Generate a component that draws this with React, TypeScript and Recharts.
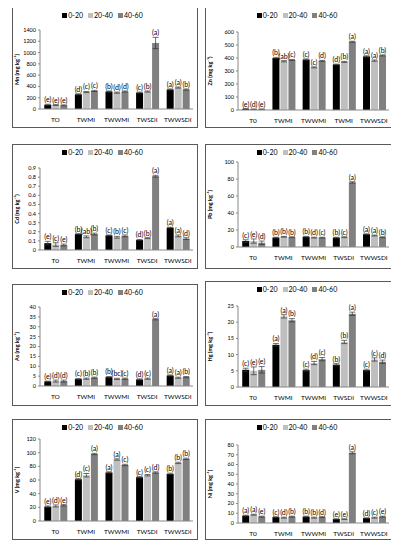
import React from "react";
import { BarChart, Bar, XAxis, YAxis, ErrorBar, LabelList, Legend } from "recharts";

const CATS = ["T0", "TWMI", "TWWMI", "TWSDI", "TWWSDI"];
const CATS_MN = ["TO", "TWMI", "TWWMI", "TWSDI", "TWWSDI"];
const CATS_ZN = ["T0", "TWMI", "TWWMI", "TWMI", "TWWSDI"];
const DEPTHS = ["0-20", "20-40", "40-60"];
const COLORS = ["#000000", "#bfbfbf", "#808080"];

// Mn
const mn020 = [75, 260, 310, 290, 345];
const mn2040 = [70, 300, 290, 310, 380];
const mn4060 = [65, 320, 310, 1170, 345];
const mnErr020 = [10, 10, 10, 10, 10];
const mnErr2040 = [8, 10, 10, 10, 10];
const mnErr4060 = [8, 10, 10, 100, 10];
const mnLet020 = ["e", "d", "b", "c", "a"];
const mnLet2040 = ["e", "c", "d", "b", "a"];
const mnLet4060 = ["e", "c", "d", "a", "b"];

// Zn
const zn020 = [8, 400, 388, 350, 412];
const zn2040 = [6, 375, 328, 370, 380];
const zn4060 = [6, 385, 378, 525, 420];
const znErr020 = [3, 5, 5, 3, 5];
const znErr2040 = [2, 5, 4, 4, 5];
const znErr4060 = [2, 4, 4, 4, 4];
const znLet020 = ["e", "b", "c", "d", "a"];
const znLet2040 = ["d", "ab", "c", "b", "a"];
const znLet4060 = ["e", "c", "d", "a", "b"];

// Cd
const cd020 = [0.075, 0.175, 0.16, 0.11, 0.245];
const cd2040 = [0.06, 0.145, 0.14, 0.13, 0.155];
const cd4060 = [0.055, 0.175, 0.155, 0.81, 0.125];
const cdErr020 = [0.02, 0.005, 0.005, 0.005, 0.005];
const cdErr2040 = [0.02, 0.01, 0.01, 0.005, 0.01];
const cdErr4060 = [0.01, 0.01, 0.01, 0.01, 0.01];
const cdLet020 = ["e", "b", "c", "d", "a"];
const cdLet2040 = ["c", "ab", "b", "b", "a"];
const cdLet4060 = ["e", "b", "c", "a", "d"];

// Pb
const pb020 = [7, 11, 12, 11, 15];
const pb2040 = [7, 12, 11, 11.5, 13.5];
const pb4060 = [5, 11.5, 11, 76, 11.5];
const pbErr020 = [1.5, 0.5, 0.5, 0.5, 0.5];
const pbErr2040 = [2.5, 0.5, 0.5, 0.5, 0.5];
const pbErr4060 = [2, 0.5, 0.5, 0.8, 0.5];
const pbLet020 = ["c", "b", "b", "b", "a"];
const pbLet2040 = ["e", "b", "d", "c", "a"];
const pbLet4060 = ["d", "b", "c", "a", "b"];

// As
const as020 = [2.3, 3.5, 4.5, 3.3, 5.3];
const as2040 = [2.5, 3.7, 3.6, 3.7, 4.2];
const as4060 = [2.5, 4.2, 3.7, 33.8, 4.5];
const asErr020 = [0.2, 0.3, 0.3, 0.3, 0.3];
const asErr2040 = [0.5, 0.3, 0.3, 0.3, 0.3];
const asErr4060 = [0.5, 0.3, 0.3, 0.3, 0.3];
const asLet020 = ["e", "c", "b", "d", "a"];
const asLet2040 = ["d", "b", "bc", "c", "a"];
const asLet4060 = ["d", "b", "c", "a", "b"];

// Hg
const hg020 = [5.3, 13, 5.2, 6.9, 5.2];
const hg2040 = [5, 21.8, 7.4, 13.9, 8.5];
const hg4060 = [5.3, 20.6, 8.6, 22.6, 7.8];
const hgErr020 = [0.5, 0.4, 0.3, 0.3, 0.3];
const hgErr2040 = [1.2, 0.5, 0.5, 0.5, 0.5];
const hgErr4060 = [1, 0.5, 0.5, 0.5, 0.5];
const hgLet020 = ["c", "a", "c", "b", "c"];
const hgLet2040 = ["e", "a", "d", "b", "c"];
const hgLet4060 = ["e", "b", "c", "a", "d"];

// V
const v020 = [21, 61, 71, 64, 69];
const v2040 = [22, 67, 90, 67, 85];
const v4060 = [23, 98, 82, 71, 91];
const vErr020 = [1, 1, 1, 1, 1];
const vErr2040 = [1.5, 2.5, 1, 1, 1];
const vErr4060 = [1, 1, 1, 1, 1];
const vLet020 = ["e", "d", "a", "c", "b"];
const vLet2040 = ["d", "c", "a", "c", "b"];
const vLet4060 = ["e", "a", "c", "d", "b"];

// Ni
const ni020 = [7.5, 6, 6.5, 4, 5];
const ni2040 = [8.5, 5.5, 5.5, 4, 5.5];
const ni4060 = [6.5, 6.5, 6, 72, 6.5];
const niErr020 = [0.5, 0.5, 0.5, 0.3, 0.3];
const niErr2040 = [0.5, 0.5, 0.5, 0.3, 0.5];
const niErr4060 = [0.5, 0.5, 0.5, 1, 0.5];
const niLet020 = ["a", "c", "b", "e", "d"];
const niLet2040 = ["a", "d", "b", "e", "c"];
const niLet4060 = ["e", "b", "d", "a", "e"];

const FONT = "Lato, 'Liberation Sans', sans-serif";

function build(cats: string[], vals: number[][], errs: number[][], lets: string[][]) {
  return cats.map((c, i) => ({
    k: i,
    c,
    v0: vals[0][i], v1: vals[1][i], v2: vals[2][i],
    e0: errs[0][i], e1: errs[1][i], e2: errs[2][i],
    l0: lets[0][i], l1: lets[1][i], l2: lets[2][i],
  }));
}

function ticksOf(max: number, step: number) {
  const t: number[] = [];
  for (let v = 0; v <= max + step / 1000; v += step) t.push(Math.round(v * 1000) / 1000);
  return t;
}

interface PanelProps {
  left: number; top: number; w: number; h: number;
  axisX: number; plotTop: number; plotBottom: number;
  cats: string[]; vals: number[][]; errs: number[][]; lets: string[][];
  max: number; step: number; metal: string;
}

function Panel(p: PanelProps) {
  const data = build(p.cats, p.vals, p.errs, p.lets);
  const xh = 14;
  const plotH = p.plotBottom - p.plotTop;
  const margin = { top: p.plotTop, right: 5, left: 0, bottom: p.h - p.plotBottom - xh };
  const letterContent = (j: number) => (props: any) => {
    const { x, y, width, index } = props;
    const e = data[index][`e${j}` as "e0"] as number;
    const ep = (e / p.max) * plotH;
    return (
      <text x={x + width / 2} y={y - ep - 2} textAnchor="middle" fontSize={7} fill="#000" style={{ fill: "#000" }} fontFamily={FONT}>
        {`(${data[index][`l${j}` as "l0"]})`}
      </text>
    );
  };
  const legendContent = () => (
    <div style={{ display: "flex", justifyContent: "center", gap: 5, fontSize: 7, fontFamily: FONT, lineHeight: "8px" }}>
      {DEPTHS.map((d, i) => (
        <span key={d} style={{ display: "flex", alignItems: "center" }}>
          <span style={{ width: 5, height: 5, background: COLORS[i], display: "inline-block", marginRight: 1 }} />
          {d}
        </span>
      ))}
    </div>
  );
  return (
    <div style={{ position: "absolute", left: p.left, top: p.top, width: p.w, height: p.h, border: "1px solid #595959", boxSizing: "border-box", background: "#fff" }}>
      <div style={{ position: "absolute", left: -1, top: -1 }}>
        <BarChart width={p.w} height={p.h} data={data} margin={margin} barGap={1} barCategoryGap="14%">
          <Legend verticalAlign="top" content={legendContent} wrapperStyle={{ top: 4 }} />
          <XAxis dataKey="k" height={xh} tickFormatter={(i: number) => p.cats[i]} tick={{ fontSize: 6.5, fill: "#000", fontFamily: FONT }}
            axisLine={{ stroke: "#888" }} tickLine={false} interval={0} />
          <YAxis width={p.axisX} domain={[0, p.max]} ticks={ticksOf(p.max, p.step)} interval={0} allowDataOverflow
            tick={{ fontSize: 5.5, fill: "#000", fontFamily: FONT }} tickSize={2} tickMargin={2}
            axisLine={{ stroke: "#888" }} tickLine={{ stroke: "#888" }}
            label={{ value: `${p.metal} (mg kg⁻¹)`, angle: -90, position: "insideLeft", offset: 5, style: { fontSize: 5.5, fontWeight: 700, fontFamily: FONT, textAnchor: "middle", fill: "#000" } }} />
          {[0, 1, 2].map((j) => (
            <Bar key={j} dataKey={`v${j}`} name={DEPTHS[j]} fill={COLORS[j]} isAnimationActive={false}>
              <ErrorBar dataKey={`e${j}`} width={3} stroke="#333" strokeWidth={0.7} direction="y" />
              <LabelList dataKey={`l${j}`} content={letterContent(j)} />
            </Bar>
          ))}
        </BarChart>
      </div>
    </div>
  );
}

export default function App() {
  const L = 12, R = 205, LW = 186, RW = 189;
  return (
    <div style={{ position: "relative", width: 399, height: 550 }}>
      <div style={{ position: "absolute", left: -8, top: -8, width: 399, height: 550 }}>
        <Panel left={L} top={7} w={LW} h={121} axisX={28} plotTop={15} plotBottom={102} cats={CATS_MN}
          vals={[mn020, mn2040, mn4060]} errs={[mnErr020, mnErr2040, mnErr4060]} lets={[mnLet020, mnLet2040, mnLet4060]}
          max={1400} step={200} metal="Mn" />
        <Panel left={R} top={7} w={RW} h={121} axisX={33} plotTop={17} plotBottom={103} cats={CATS_ZN}
          vals={[zn020, zn2040, zn4060]} errs={[znErr020, znErr2040, znErr4060]} lets={[znLet020, znLet2040, znLet4060]}
          max={600} step={100} metal="Zn" />
        <Panel left={L} top={144} w={LW} h={125} axisX={28} plotTop={16} plotBottom={106} cats={CATS}
          vals={[cd020, cd2040, cd4060]} errs={[cdErr020, cdErr2040, cdErr4060]} lets={[cdLet020, cdLet2040, cdLet4060]}
          max={0.9} step={0.1} metal="Cd" />
        <Panel left={R} top={144} w={RW} h={125} axisX={33} plotTop={10} plotBottom={103} cats={CATS}
          vals={[pb020, pb2040, pb4060]} errs={[pbErr020, pbErr2040, pbErr4060]} lets={[pbLet020, pbLet2040, pbLet4060]}
          max={100} step={20} metal="Pb" />
        <Panel left={L} top={284} w={LW} h={122} axisX={28} plotTop={15} plotBottom={102} cats={CATS_MN}
          vals={[as020, as2040, as4060]} errs={[asErr020, asErr2040, asErr4060]} lets={[asLet020, asLet2040, asLet4060]}
          max={40} step={5} metal="As" />
        <Panel left={R} top={281} w={RW} h={125} axisX={33} plotTop={17} plotBottom={106} cats={CATS}
          vals={[hg020, hg2040, hg4060]} errs={[hgErr020, hgErr2040, hgErr4060]} lets={[hgLet020, hgLet2040, hgLet4060]}
          max={25} step={5} metal="Hg" />
        <Panel left={L} top={419} w={LW} h={121} axisX={28} plotTop={12} plotBottom={102} cats={CATS}
          vals={[v020, v2040, v4060]} errs={[vErr020, vErr2040, vErr4060]} lets={[vLet020, vLet2040, vLet4060]}
          max={120} step={20} metal="V" />
        <Panel left={R} top={419} w={RW} h={121} axisX={33} plotTop={18} plotBottom={104} cats={CATS}
          vals={[ni020, ni2040, ni4060]} errs={[niErr020, niErr2040, niErr4060]} lets={[niLet020, niLet2040, niLet4060]}
          max={80} step={10} metal="Ni" />
      </div>
    </div>
  );
}
